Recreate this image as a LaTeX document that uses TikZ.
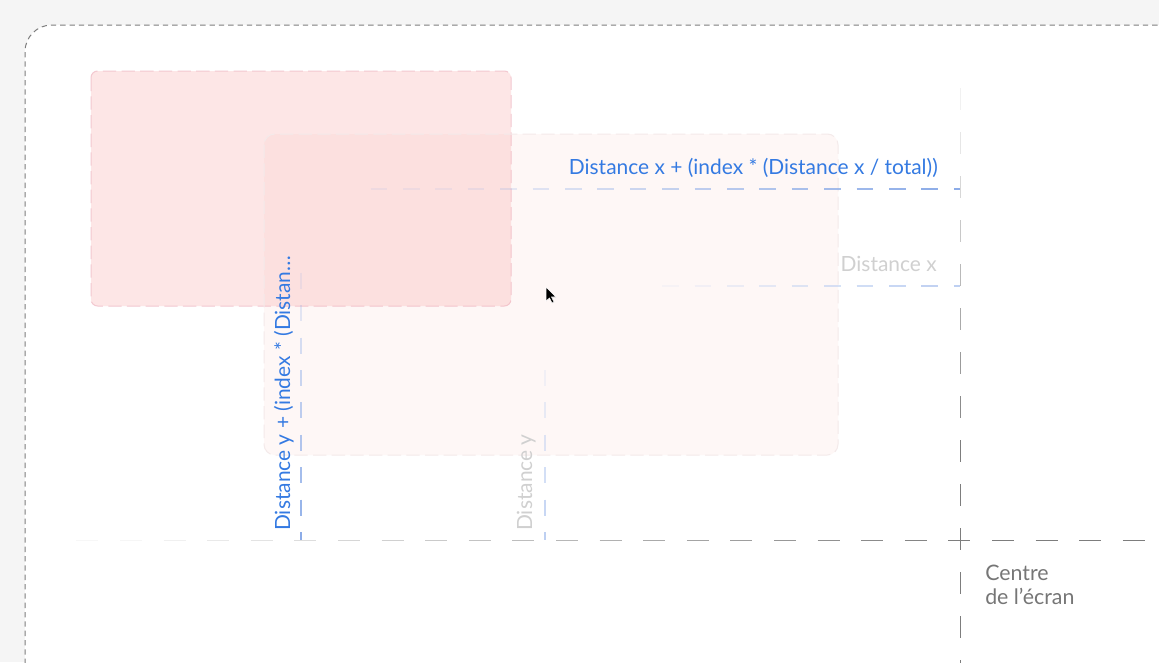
\documentclass[tikz,border=0pt]{standalone}
\usepackage{fontspec}
\setmainfont{Lato}
\definecolor{bggray}{RGB}{245,245,245}
\definecolor{panelline}{RGB}{125,125,125}
\definecolor{pinkfill}{RGB}{253,230,230}
\definecolor{pinkline}{RGB}{243,200,208}
\definecolor{softfill}{RGB}{250,160,150}
\definecolor{softline}{RGB}{244,234,234}
\definecolor{centregray}{RGB}{125,125,125}
\definecolor{guideblue}{RGB}{140,172,232}
\definecolor{paleblue}{RGB}{190,208,242}
\definecolor{textblue}{RGB}{52,122,226}
\definecolor{textgray}{RGB}{208,208,208}
\definecolor{labelgray}{RGB}{118,118,118}
\tikzset{
  centreline/.style={centregray,line width=0.75pt},
  blueline/.style={guideblue,line width=1pt},
  paleline/.style={paleblue,line width=1pt},
  bluetext/.style={text=textblue,font=\fontsize{15.7}{19}\selectfont},
  greytext/.style={text=textgray,font=\fontsize{15.7}{19}\selectfont},
}
\begin{document}
\begin{tikzpicture}[x=0.75pt,y=-0.75pt, every node/.style={inner sep=0pt}]
	\useasboundingbox (0,0) rectangle (1159,662);
	\clip (0,0) rectangle (1159,662);
	\fill[bggray] (0,0) rectangle (1159,662);
	% screen panel
	\fill[white,rounded corners=20] (25,25) rectangle (1220,720);
	\draw[panelline,line width=0.75pt,dash pattern=on 4pt off 3pt,rounded corners=20] (25,720) |- (1220,25);
	% cards
	\draw[pinkline,fill=pinkfill,line width=0.75pt,dash pattern=on 10pt off 4pt,rounded corners=5] (91,71) rectangle (511,306);
	\draw[softline,fill=softfill,fill opacity=0.08,line width=0.75pt,dash pattern=on 10pt off 4pt,rounded corners=8] (264,134) rectangle (838,455);
	% centre of the screen
	\foreach \k in {0,...,24}{
		\pgfmathsetmacro\xa{76.4+43.6*\k}
		\pgfmathsetmacro\op{min(1,max(0.06,(\xa-60)/900))}
		\draw[centreline,draw opacity=\op] (\xa,540) -- ++(22,0);
	}
	\foreach \k in {0,...,13}{
		\pgfmathsetmacro\ya{88+44*\k}
		\pgfmathsetmacro\op{min(1,max(0.1,(\ya-60)/380))}
		\draw[centreline,draw opacity=\op] (960,\ya) -- ++(0,22);
	}
	% distance x guides
	\foreach \k in {-1,...,17}{
		\pgfmathsetmacro\xa{403+32.4*\k}
		\pgfmathsetmacro\xb{min(\xa+16.5,960)}
		\pgfmathsetmacro\op{min(1,max(0.12,(\xa-380)/560))}
		\draw[blueline,draw opacity=\op] (\xa,189) -- (\xb,189);
	}
	\foreach \k in {8,...,17}{
		\pgfmathsetmacro\xa{403+32.4*\k}
		\pgfmathsetmacro\xb{min(\xa+16.5,960)}
		\pgfmathsetmacro\op{min(1,max(0.12,(\xa-640)/300))}
		\draw[paleline,draw opacity=\op] (\xa,286) -- (\xb,286);
	}
	% distance y guides
	\foreach \k in {0,...,8}{
		\pgfmathsetmacro\ya{532-32.4*\k}
		\pgfmathsetmacro\yb{min(\ya+16,540)}
		\pgfmathsetmacro\op{min(1,max(0.12,1-(532-\ya)/300))}
		\draw[blueline,draw opacity=\op] (301,\ya) -- (301,\yb);
	}
	\foreach \k in {0,...,5}{
		\pgfmathsetmacro\ya{532-32.4*\k}
		\pgfmathsetmacro\yb{min(\ya+16,540)}
		\pgfmathsetmacro\op{min(1,max(0.12,1-(532-\ya)/200))}
		\draw[paleline,draw opacity=\op] (545,\ya) -- (545,\yb);
	}
	% labels
	\node[bluetext,anchor=base east] (formx) at (938,174) {Distance x + (index * (Distance x / total))};
	\node[greytext,anchor=base east] (distx) at (937,271) {Distance x};
	\node[bluetext,rotate=90,anchor=base west] (formy) at (290,531) {Distance y + (index * (Distan…};
	\node[greytext,rotate=90,anchor=base west] (disty) at (532,531) {Distance y};
	\node[text=labelgray,font=\fontsize{16}{18}\selectfont,align=left,anchor=north west] (centre) at (985,565) {Centre\\de l’écran};
	% mouse pointer
	\filldraw[black,draw=white,line width=0.4pt] (546,287) -- ++(0,14) -- ++(3.5,-3) -- ++(2.5,5) -- ++(2,-1) -- ++(-2.5,-5) -- ++(4.5,0) -- cycle;
\end{tikzpicture}
\end{document}
